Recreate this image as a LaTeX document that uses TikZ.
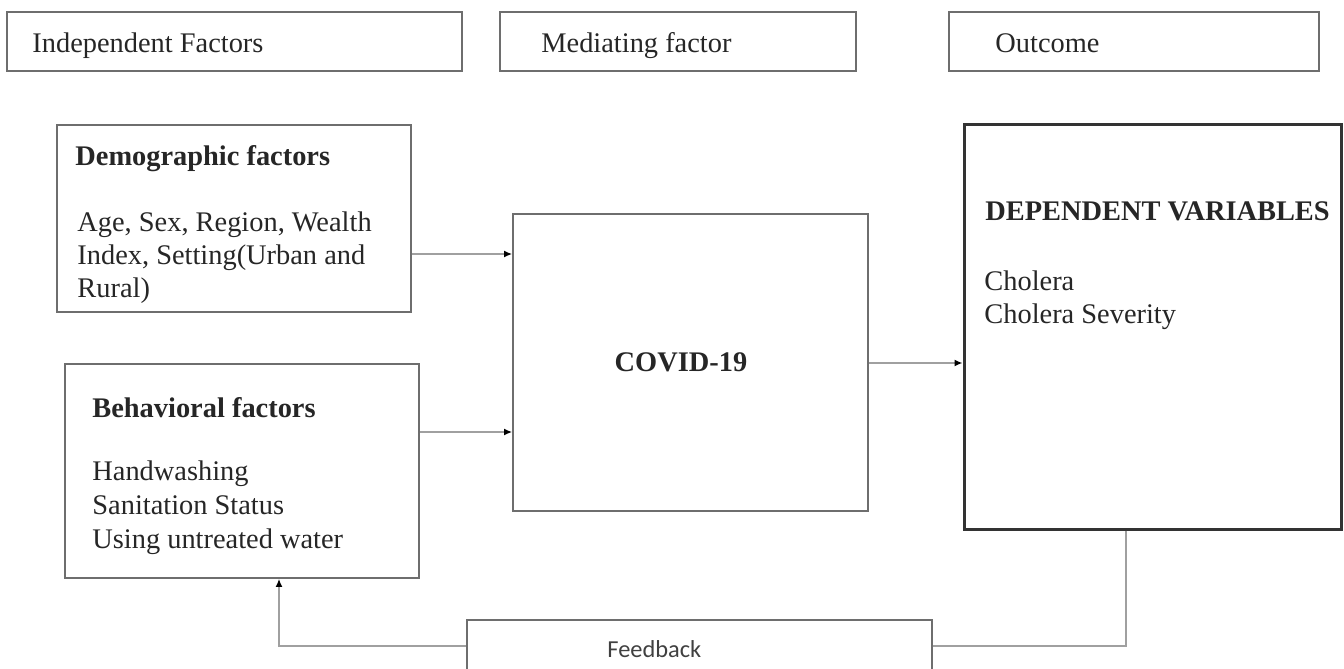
\documentclass[tikz,border=0pt]{standalone}
\usepackage{fontspec}
\setmainfont{Liberation Serif}
\newfontfamily\fbfont{Carlito}
\usetikzlibrary{arrows.meta,positioning,calc}
\definecolor{edge}{HTML}{6E6E6E}
\definecolor{dark}{HTML}{333333}
\definecolor{wire}{HTML}{A0A0A0}
\tikzset{
  box/.style={rectangle, draw=edge, line width=0.9pt, inner sep=0pt},
  depbox/.style={rectangle, draw=dark, line width=1.5pt, inner sep=0pt},
  txt/.style={inner sep=0pt, anchor=base west, align=left, text=black!85,
    font=\fontsize{14.2}{16.5}\selectfont},
  ttl/.style={txt, font=\fontsize{14.2}{16.5}\selectfont\bfseries},
  link/.style={draw=wire, line width=0.75pt, -{Latex[length=4pt, width=3.5pt, color=black]}},
  wireline/.style={draw=wire, line width=0.75pt},
}

\begin{document}
\begin{tikzpicture}[x=0.5pt, y=-0.5pt]
  \useasboundingbox (0,0) rectangle (1344,669);
  \clip (0,0) rectangle (1344,669);
  % headers
  \node[box, minimum width=227.5pt, minimum height=29.5pt] (hind) at (234.5,41.5) {};
  \node[box, minimum width=178pt, minimum height=29.5pt] (hmed) at (678,41.5) {};
  \node[box, minimum width=185pt, minimum height=29.5pt] (hout) at (1134,41.5) {};
  \node[txt] (thind) at (32,52) {Independent Factors};
  \node[txt] (thmed) at (541,52) {Mediating factor};
  \node[txt] (thout) at (995,52) {Outcome};
  % factor boxes
  \node[box, minimum width=177pt, minimum height=93.5pt] (demo) at (234,218.5) {};
  \node[box, minimum width=177pt, minimum height=107pt] (behav) at (242,471) {};
  \node[box, minimum width=177.5pt, minimum height=148.5pt] (covid) at (690.5,362.5) {};
  \node[depbox, minimum width=188.5pt, minimum height=202.5pt] (dep) at (1152.5,326.5) {};
  \node[box, minimum width=232.5pt, minimum height=40pt] (fb) at (699.5,660) {};
  % texts (base = last line)
  \node[ttl] (tdemo) at (75,165) {Demographic factors};
  \node[txt] (bdemo) at (77,297) {Age, Sex, Region, Wealth\\ Index, Setting(Urban and\\ Rural)};
  \node[ttl] (tbehav) at (92,417) {Behavioral factors};
  \node[txt, font=\fontsize{14.2}{17}\selectfont] (bbehav) at (92,548) {Handwashing\\ Sanitation Status\\ Using untreated water};
  \node[ttl, anchor=center] (tcovid) at (681,362) {COVID-19};
  \node[ttl] (tdep) at (985,220) {DEPENDENT VARIABLES};
  \node[txt] (bdep) at (984,323) {Cholera\\ Cholera Severity};
  \node[txt, font=\fontsize{12.2}{14}\fbfont, text=black!75] (tfb) at (607,657) {Feedback};
  % connectors
  \draw[link] (demo.east |- 0,254) -- (covid.west |- 0,254);
  \draw[link] (behav.east |- 0,432) -- (covid.west |- 0,432);
  \draw[link] (covid.east |- 0,363) -- (dep.west |- 0,363);
  \coordinate (fbr) at (1126,646);
  \coordinate (fbl) at (279,646);
  \draw[wireline] (dep.south -| fbr) -- (fbr) -- (fb.east |- fbr);
  \draw[link] (fb.west |- fbl) -- (fbl) -- (behav.south -| fbl);
\end{tikzpicture}
\end{document}
